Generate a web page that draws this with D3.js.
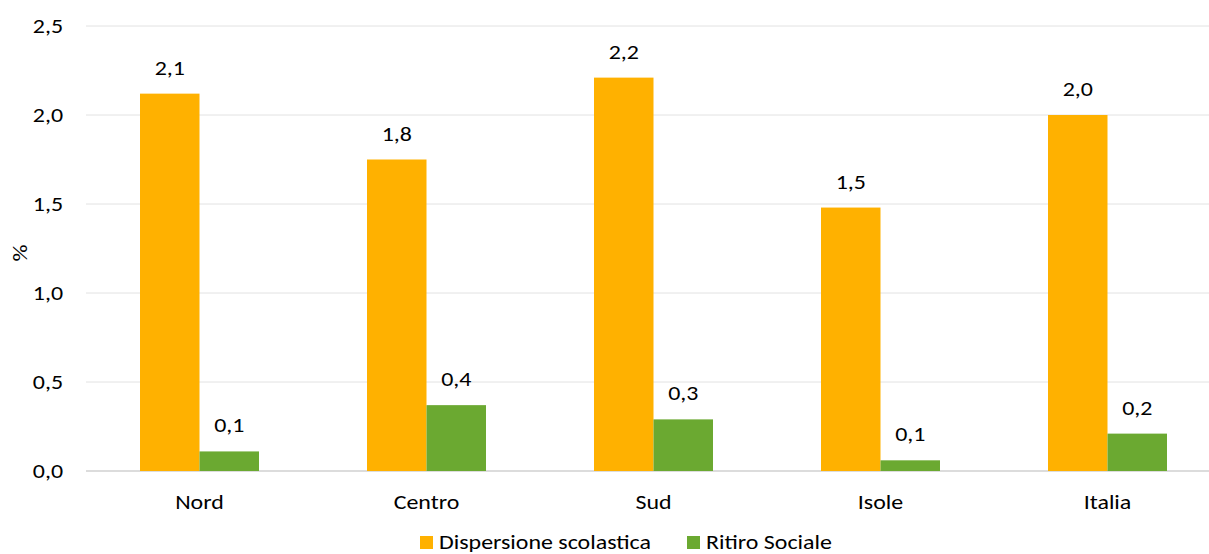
<!DOCTYPE html>
<html><head><meta charset="utf-8">
<script src="https://cdn.jsdelivr.net/npm/d3@7"></script>
<style>body{margin:0;background:#fff}svg{display:block}text{font-family:Carlito,Calibri,Lato,sans-serif;fill:#000}</style>
</head><body><svg id="c" width="1209" height="554"></svg>
<script>
const categories = ["Nord","Centro","Sud","Isole","Italia"];
const seriesNames = ["Dispersione scolastica","Ritiro Sociale"];
const dispersione = [2.12,1.75,2.21,1.48,2.0];
const ritiro = [0.11,0.37,0.29,0.06,0.21];
const yTicks = [0,0.5,1.0,1.5,2.0,2.5];
const colors = ["#FFB100","#6BA931"];

(function(){
const svg = d3.select("#c");
const pL = 86, pR = 1221, pT = 26, pB = 471;
const x = d3.scaleBand().domain(categories).range([pL,pR]).paddingInner(108/227).paddingOuter(54/227);
const xs = d3.scaleBand().domain(seriesNames).range([0,x.bandwidth()]);
const y = d3.scaleLinear().domain([0,2.5]).range([pB,pT]);
const fmt = v => d3.format(".1f")(v).replace(".",",");
const fs = 21, sx = 1.14;
const place = (sel, fx, fy) => sel.attr("transform",(d,i)=>`translate(${fx(d,i)},${fy(d,i)}) scale(${sx},1)`).style("font-size",fs+"px");

svg.append("g").selectAll("line").data(yTicks).join("line")
  .attr("x1",pL).attr("x2",1209).attr("y1",d=>y(d)).attr("y2",d=>y(d))
  .attr("stroke",d=>d===0?"#d0d0d0":"#e2e2e2").attr("stroke-width",d=>d===0?1.5:1);
place(svg.append("g").selectAll("text").data(yTicks).join("text")
  .attr("dy","0.35em").attr("text-anchor","end").text(fmt), ()=>63, d=>y(d));
svg.append("text").attr("transform",`translate(27,253) rotate(-90) scale(${sx},1)`).attr("text-anchor","middle")
  .style("font-size",fs+"px").text("%");

const data = [dispersione, ritiro];
data.forEach((vals,si)=>{
  const g = svg.append("g");
  g.selectAll("rect").data(categories).join("rect")
    .attr("x",(c)=>x(c)+xs(seriesNames[si])).attr("width",xs.bandwidth())
    .attr("y",(c,i)=>y(vals[i])).attr("height",(c,i)=>y(0)-y(vals[i]))
    .attr("fill",colors[si]);
  place(g.selectAll("text").data(categories).join("text")
    .attr("text-anchor","middle").text((c,i)=>fmt(vals[i])),
    c=>x(c)+xs(seriesNames[si])+xs.bandwidth()/2, (c,i)=>y(vals[i])-19);
});
place(svg.append("g").selectAll("text").data(categories).join("text")
  .attr("text-anchor","middle").text(d=>d), c=>x(c)+x.bandwidth()/2, ()=>509);
const legX = [420,687];
seriesNames.forEach((n,i)=>{
  svg.append("rect").attr("x",legX[i]).attr("y",536).attr("width",13).attr("height",13).attr("fill",colors[i]);
  place(svg.append("text").datum(n).text(n), ()=>legX[i]+19, ()=>549);
});
})();
</script></body></html>
